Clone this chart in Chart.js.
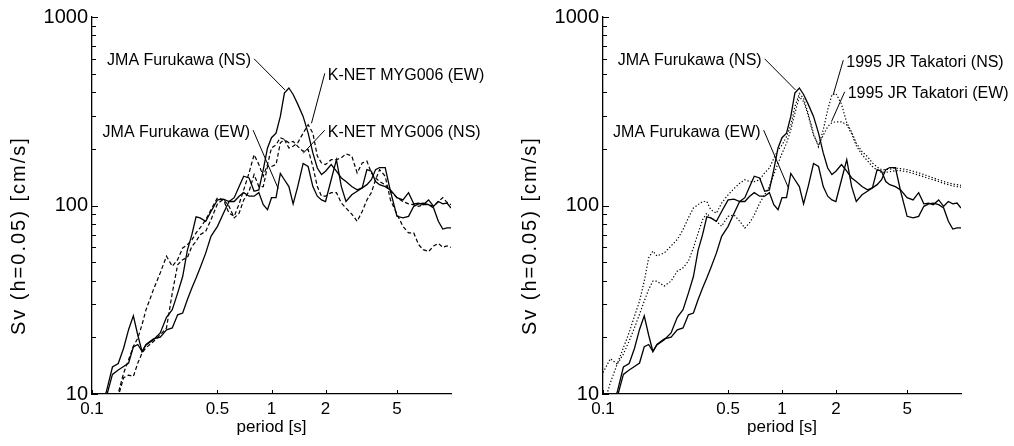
<!DOCTYPE html>
<html>
<head>
<meta charset="utf-8">
<script src="https://cdn.jsdelivr.net/npm/chart.js@4.4.1/dist/chart.umd.min.js"></script>
<style>
  body { margin: 0; background: #fff; }
  .row { display: flex; width: 1014px; height: 446px; }
  .panel { position: relative; width: 507px; height: 446px; }
</style>
</head>
<body>
<div class="row">
  <div class="panel"><canvas id="left" width="507" height="446"></canvas></div>
  <div class="panel"><canvas id="right" width="507" height="446"></canvas></div>
</div>
<script>
// Periods [s] shared by every spectrum
const periods = [0.10, 0.11, 0.12, 0.13, 0.14, 0.15, 0.16, 0.17, 0.18, 0.19, 0.20,
  0.22, 0.24, 0.26, 0.28, 0.30, 0.32, 0.34, 0.36, 0.38, 0.40,
  0.43, 0.46, 0.50, 0.54, 0.58, 0.62, 0.66, 0.70, 0.75, 0.80, 0.85, 0.90, 0.95,
  1.0, 1.06, 1.12, 1.18, 1.25, 1.32, 1.4, 1.5, 1.6, 1.7, 1.8, 1.9,
  2.0, 2.15, 2.3, 2.45, 2.6, 2.8, 3.0, 3.2, 3.4, 3.6, 3.8,
  4.0, 4.3, 4.6, 5.0, 5.4, 5.8, 6.2, 6.6, 7.0, 7.5, 8.0, 8.5, 9.0, 9.5, 10];

// Sv (h=0.05) [cm/s]
const jmaNS = [7, 8.5, 10.2, 13.9, 14.5, 17.5, 22, 26, 20.5, 16.8, 18.2,
  19.4, 21.1, 25.5, 28, 34.3, 42, 58, 70, 87, 86,
  82.5, 93, 107, 108, 105, 110, 126, 143, 140, 119, 121, 155, 202,
  229, 242, 297, 395, 420, 388, 345, 297, 242, 190, 158, 146,
  152, 165, 152, 140, 134, 126, 121, 124, 155, 152, 134,
  129, 126, 121, 110, 107, 117, 102, 103, 101, 107, 99, 105, 102, 103, 97];

const jmaEW = [7, 8, 9.6, 12.7, 13.4, 14, 14.6, 17.8, 18.3, 16.8, 18.3,
  19.6, 20, 21.9, 22.4, 26.3, 26.9, 31.7, 36.5, 41.2, 46.6,
  55.9, 68.6, 77.5, 91, 105, 105, 112, 117, 112, 112, 117, 101, 95,
  110, 110, 148, 137, 126, 102, 126, 167, 161, 126, 112, 107,
  105, 137, 175, 126, 105, 114, 119, 124, 129, 137, 155,
  159, 159, 119, 87.6, 86, 87.6, 99, 102, 103, 101, 97, 82.5, 75, 76, 76];

const knetNS = [6, 7, 8, 9, 10.1, 12.9, 15.2, 17.9, 19.8, 23.3, 28,
  35.8, 43.9, 53.8, 47.6, 51.6, 59.5, 62, 65.7, 71.5, 76,
  84, 95, 110, 107, 91, 87.6, 102, 121, 149, 186, 165, 143, 165,
  202, 210, 229, 224, 215, 219, 206, 194, 198, 161, 126, 112,
  112, 117, 117, 103, 97, 90, 82.5, 93, 107, 117, 137,
  155, 143, 107, 90, 77.5, 71.5, 71.5, 62, 58.3, 57, 61, 63, 60, 61, 60];

const knetEW = [6, 7, 7.8, 8.5, 9.7, 12.2, 12.6, 12.4, 14.6, 16.5, 17.6,
  19, 20.6, 22.4, 34.3, 48.5, 51.6, 53, 60.7, 64.5, 70,
  73, 84, 102, 108, 99, 86, 91, 107, 119, 146, 126, 126, 161,
  161, 165, 215, 224, 202, 206, 215, 242, 268, 242, 183, 168,
  165, 175, 175, 179, 188, 183, 149, 168, 172, 149, 140,
  134, 129, 119, 110, 105, 102, 101, 99, 101, 101, 99, 105, 110, 104, 101];

const takNS = [13, 15.4, 14.4, 17.6, 21.2, 25.9, 31.1, 39.7, 52.8, 57.3, 54,
  56, 61, 66, 74.5, 86, 97, 101, 105, 105, 95,
  91, 103, 114, 123, 131, 137, 134, 134, 137, 149, 158, 178, 197,
  209, 232, 267, 334, 393, 370, 308, 241, 205, 252, 322, 386,
  393, 345, 275, 245, 214, 193, 182, 168, 160, 155, 155,
  156, 158, 157, 155, 152, 149, 146, 143, 140, 137, 134, 132, 130, 129, 128];

const takEW = [8.5, 11.5, 14.4, 16.3, 19.1, 22.5, 26.5, 31.1, 35.9, 39.7, 39.7,
  37.4, 39.7, 44.8, 46.7, 50.7, 59.6, 71.4, 84, 91, 86,
  82.5, 77.6, 87.6, 89, 82.5, 76, 81, 89, 103, 114, 126, 146, 167,
  189, 214, 252, 308, 378, 356, 301, 236, 209, 236, 262, 275,
  278, 278, 268, 240, 208, 186, 173, 161, 154, 150, 150,
  151, 153, 153, 151, 148, 145, 142, 139, 137, 134, 131, 129, 127, 126, 125];

// Axis ticks
const xTicks = [0.1, 0.5, 1, 2, 5];
const yTicks = [10, 20, 30, 40, 50, 60, 70, 80, 90, 100, 200, 300, 400, 500, 600, 700, 800, 900, 1000];
const yLabels = [10, 100, 1000];
const yTitle = 'Sv (h=0.05) [cm/s]';

const FONT = 'Liberation Sans, Arial, Helvetica, sans-serif';

function pts(values) {
  return periods.map((p, i) => ({ x: p, y: values[i] }));
}

function series(label, values, dash) {
  return {
    label: label,
    data: pts(values),
    borderColor: '#000',
    borderWidth: dash.length ? 1.2 : 1.3,
    borderDash: dash,
    pointRadius: 0,
    tension: 0,
    fill: false
  };
}

// Inward tick marks on the left and bottom axes, plus the rotated y title
const tickMarks = {
  id: 'tickMarks',
  afterDraw(chart) {
    const ctx = chart.ctx;
    const area = chart.chartArea;
    const xs = chart.scales.x;
    const ys = chart.scales.y;
    ctx.save();
    ctx.strokeStyle = '#000';
    ctx.lineWidth = 1;
    yTicks.forEach(v => {
      const py = Math.round(ys.getPixelForValue(v)) + 0.5;
      const len = yLabels.includes(v) ? 6 : 4;
      ctx.beginPath();
      ctx.moveTo(area.left, py);
      ctx.lineTo(area.left + len, py);
      ctx.stroke();
    });
    xTicks.forEach(v => {
      const px = Math.round(xs.getPixelForValue(v)) + 0.5;
      ctx.beginPath();
      ctx.moveTo(px, area.bottom);
      ctx.lineTo(px, area.bottom - 4);
      ctx.stroke();
    });
    // y axis title
    ctx.translate(area.left - 73, area.top + 0.58 * (area.bottom - area.top));
    ctx.rotate(-Math.PI / 2);
    ctx.fillStyle = '#000';
    ctx.font = '20px ' + FONT;
    ctx.letterSpacing = '2px';
    ctx.textAlign = 'center';
    ctx.textBaseline = 'middle';
    ctx.fillText(yTitle, 0, 0);
    ctx.restore();
  }
};

// Curve names with leader lines
const leaders = {
  id: 'leaders',
  afterDraw(chart, args, opts) {
    const ctx = chart.ctx;
    const xs = chart.scales.x;
    const ys = chart.scales.y;
    ctx.save();
    ctx.strokeStyle = '#000';
    ctx.fillStyle = '#000';
    ctx.lineWidth = 1;
    ctx.font = '16px ' + FONT;
    ctx.textBaseline = 'middle';
    (opts.notes || []).forEach(n => {
      const x1 = xs.getPixelForValue(n.from[0]);
      const y1 = ys.getPixelForValue(n.from[1]);
      const x2 = xs.getPixelForValue(n.to[0]);
      const y2 = ys.getPixelForValue(n.to[1]);
      ctx.beginPath();
      ctx.moveTo(x1, y1);
      ctx.lineTo(x2, y2);
      ctx.stroke();
      if (n.side === 'left') {
        ctx.textAlign = 'right';
        ctx.fillText(n.text, x1 - 3, y1 + 2);
      } else {
        ctx.textAlign = 'left';
        ctx.fillText(n.text, x1 + 3, y1 + 2);
      }
    });
    ctx.restore();
  }
};

function makeChart(id, datasets, notes, yWidth, rightPad) {
  return new Chart(document.getElementById(id), {
    type: 'line',
    data: { datasets: datasets },
    plugins: [tickMarks, leaders],
    options: {
      responsive: false,
      animation: false,
      layout: { padding: { top: 17, right: rightPad, bottom: 0, left: 0 } },
      plugins: {
        legend: { display: false },
        tooltip: { enabled: false },
        leaders: { notes: notes }
      },
      scales: {
        x: {
          type: 'logarithmic',
          min: 0.1,
          max: 10,
          afterBuildTicks: s => { s.ticks = xTicks.map(v => ({ value: v })); },
          afterFit: s => { s.height = 52; },
          grid: { display: false, drawTicks: false },
          border: { display: true, color: '#000', width: 1.3 },
          ticks: {
            color: '#000',
            font: { family: FONT, size: 17 },
            padding: 5,
            maxRotation: 0,
            autoSkip: false,
            callback: v => String(v)
          },
          title: {
            display: true,
            text: 'period [s]',
            color: '#000',
            font: { family: FONT, size: 17 },
            padding: { top: 0, bottom: 8 }
          }
        },
        y: {
          type: 'logarithmic',
          min: 10,
          max: 1000,
          afterBuildTicks: s => { s.ticks = yTicks.map(v => ({ value: v })); },
          afterFit: s => { s.width = yWidth; },
          grid: { display: false, drawTicks: false },
          border: { display: true, color: '#000', width: 1.3 },
          ticks: {
            color: '#000',
            font: { family: FONT, size: 20 },
            padding: 4,
            autoSkip: false,
            callback: v => (yLabels.includes(v) ? String(v) : '')
          },
          title: { display: false }
        }
      }
    }
  });
}

const solid = [];
const dashed = [4, 2.5];
const dotted = [1.3, 2];

makeChart('left', [
  series('JMA Furukawa (NS)', jmaNS, solid),
  series('JMA Furukawa (EW)', jmaEW, solid),
  series('K-NET MYG006 (EW)', knetEW, dashed),
  series('K-NET MYG006 (NS)', knetNS, dashed)
], [
  { text: 'JMA Furukawa (NS)', from: [0.80, 600], to: [1.19, 410], side: 'left' },
  { text: 'JMA Furukawa (EW)', from: [0.79, 251], to: [1.09, 123], side: 'left' },
  { text: 'K-NET MYG006 (EW)', from: [1.98, 502], to: [1.67, 273], side: 'right' },
  { text: 'K-NET MYG006 (NS)', from: [1.98, 251], to: [1.50, 189], side: 'right' }
], 92, 56);

makeChart('right', [
  series('JMA Furukawa (NS)', jmaNS, solid),
  series('JMA Furukawa (EW)', jmaEW, solid),
  series('1995 JR Takatori (NS)', takNS, dotted),
  series('1995 JR Takatori (EW)', takEW, dotted)
], [
  { text: 'JMA Furukawa (NS)', from: [0.80, 600], to: [1.19, 410], side: 'left' },
  { text: 'JMA Furukawa (EW)', from: [0.79, 251], to: [1.09, 123], side: 'left' },
  { text: '1995 JR Takatori (NS)', from: [2.20, 590], to: [1.93, 385], side: 'right' },
  { text: '1995 JR Takatori (EW)', from: [2.24, 401], to: [1.89, 279], side: 'right' }
], 96, 53);
</script>
</body>
</html>
